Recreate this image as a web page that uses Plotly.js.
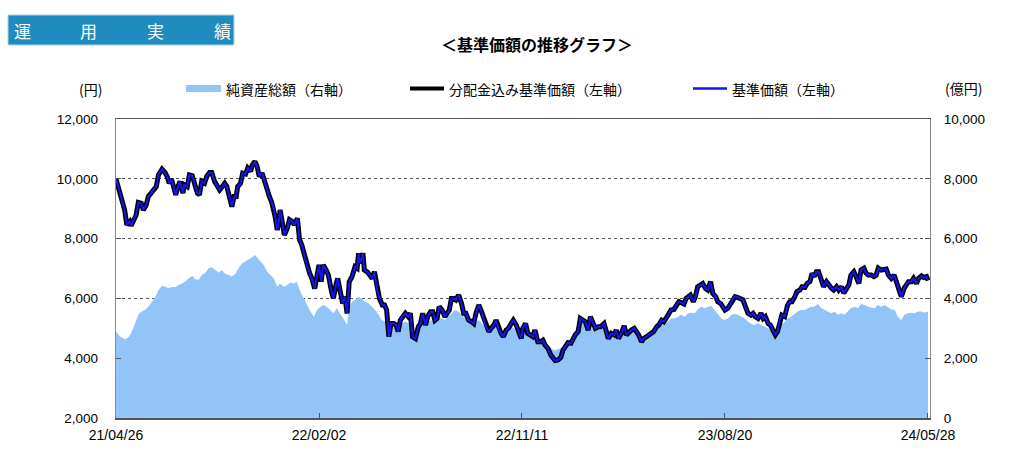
<!DOCTYPE html>
<html>
<head>
<meta charset="utf-8">
<script src="https://cdn.plot.ly/plotly-3.0.1.min.js"></script>
<style>
html,body{margin:0;padding:0;background:#fff;}
#chart{width:1024px;height:454px;}
</style>
</head>
<body>
<div id="chart"></div>
<script>
// ---- data ----
const startDate = '2021-04-26';
const tickDates = ['2021-04-26', '2022-02-02', '2022-11-11', '2023-08-20', '2024-05-28'];
const tickLabels = ['21/04/26', '22/02/02', '22/11/11', '23/08/20', '24/05/28'];
const seriesNames = ['純資産総額（右軸）', '分配金込み基準価額（左軸）', '基準価額（左軸）'];

// days elapsed since startDate
const navDays = [0,4,8,12,15,19,21,25,28,31,35,38,42,45,49,52,56,59,64,68,71,74,77,80,83,86,89,93,95,99,
102,106,109,113,116,119,123,126,130,133,137,140,144,147,151,154,157,161,164,167,169,173,176,180,183,187,189,193,196,199,
203,207,210,213,216,219,221,224,226,228,232,234,238,241,245,248,252,255,258,262,265,269,272,276,279,282,285,288,292,295,
299,302,306,308,312,315,318,321,324,328,332,335,337,339,343,345,349,352,356,359,363,366,370,373,376,379,382,386,389,392,
395,398,402,406,409,412,416,420,423,426,430,433,437,440,443,446,449,453,457,460,463,466,469,472,476,480,483,486,490,494,
497,500,504,507,511,514,518,521,525,528,532,535,538,542,545,549,552,556,559,563,
565,569,572,576,579,582,586,590,593,596,600,604,607,610,614,618,621,624,628,632,635,638,642,645,649,652,656,659,663,666,
670,673,678,681,684,688,692,695,698,702,706,709,712,716,720,723,726,730,733,737,740,744,747,751,754,758,761,764,768,771,
775,778,782,785,789,792,796,798,802,805,808,812,815,819,822,826,829,833,836,840,843,846,850,854,857,860,864,868,871,874,
878,882,885,888,892,896,899,902,906,909,913,916,919,922,925,929,933,936,939,943,946,950,953,957,960,964,967,970,973,976,
980,983,987,990,994,997,1001,1004,1008,1011,1014,1018,1021,1025,1028,1032,1035,1039,1042,1045,1049,1053,1056,1059,1063,1067,1070,1073,1077,1081,
1084,1087,1091,1095,1098,1101,1105,1108,1112,1115,1119,1122,1126,1128];

// 基準価額 (円)
const nav = [10000,9690,9300,8960,8460,8570,8430,8680,8790,9210,9180,8960,9130,9410,9520,9650,9740,10130,10320,10210,
10080,9850,9990,9740,9460,9740,9910,9520,9800,9740,10130,10100,9850,9520,9460,9910,9850,10080,10210,10210,
9910,9800,9630,9720,9850,9740,9410,9070,9410,9410,9740,9850,10190,10160,10360,10250,10440,10580,10410,10080,
10190,9850,9630,9410,9240,9020,8740,8290,8520,8960,8460,8120,8350,8630,8570,8460,8680,7960,7790,7400,
7120,6840,6670,6330,6730,7120,6560,7120,6950,6780,6280,6000,6500,6670,6170,5830,6060,5500,6560,6730,
7060,7010,7510,7170,7510,6950,6890,6780,6670,6890,6280,6000,5780,5780,5610,4720,5160,5160,5110,4890,
5270,5390,5500,5390,5500,4720,4660,5050,5160,5500,5110,5390,5550,5550,5270,5330,5720,5610,5390,5500,
5610,6000,6000,5950,6110,5830,5500,5500,5270,5220,5160,5500,5780,5610,5330,5050,4890,5000,5110,5270,
4940,4830,4720,4940,5000,5160,5270,5110,4940,4660,
5000,5160,4830,4780,4720,4940,4550,4550,4600,4440,4330,4110,4000,3920,3940,4030,4270,4390,4520,4500,
4660,4780,4890,5330,5270,5220,4940,5390,5160,5000,5050,5050,5160,4940,4660,4830,4780,4940,4660,4830,
5080,4780,4860,4940,5000,4890,4780,4550,4660,4720,4780,4860,4890,5050,5110,5270,5220,5330,5500,5610,
5630,5780,5890,5860,5810,6000,6060,6110,5890,6060,6390,6450,6500,6330,6280,6560,6170,6060,5890,5830,
5720,5610,5670,5830,6000,6060,6030,5970,5950,5750,5500,5440,5500,5390,5330,5500,5330,5390,5160,5110,
4940,4780,4890,5270,5440,5390,5780,5890,5890,6060,6230,6280,6390,6370,6500,6560,6840,6730,6890,6890,
6620,6390,6560,6450,6340,6280,6390,6280,6390,6170,6280,6450,6780,6890,6730,6500,6950,7010,6840,6780,
6780,6730,6780,7010,6950,6980,6980,6780,6670,6780,6560,6280,6060,6340,6500,6560,6560,6670,6500,6670,
6750,6700,6730,6600];

// 分配金込み基準価額 (円) — no distributions paid, same as 基準価額
const navWithDist = nav.slice();

const assetDays = [0,6,13,18,22,27,32,36,41,45,50,55,59,64,69,73,78,82,87,92,96,101,106,110,115,119,124,129,133,138,
143,147,152,157,161,166,170,175,180,184,189,193,196,200,205,210,214,219,224,228,233,238,242,247,251,256,261,265,270,275,
279,284,288,293,298,302,307,312,316,321,324,328,332,337,342,346,351,356,360,365,369,374,379,383,388,393,397,402,407,411,
416,420,425,430,434,439,444,448,453,457,462,467,471,476,481,485,490,494,499,504,508,513,518,522,527,532,536,541,545,550,
555,559,564,
568,572,577,582,586,591,595,600,605,609,614,619,623,628,632,637,642,646,651,656,660,665,670,674,679,683,688,693,697,702,
707,711,716,720,725,730,734,739,744,748,753,757,762,767,771,776,781,785,790,795,799,804,808,813,818,822,827,832,836,841,
845,850,855,859,864,869,873,878,883,887,892,896,901,906,910,915,920,924,929,933,938,943,947,952,957,961,966,970,975,980,
984,989,994,998,1003,1007,1012,1017,1021,1026,1031,1035,1040,1045,1049,1054,1058,1063,1068,1072,1077,1082,1086,1091,1095,1100,1105,1109,1114,1119,
1123,1128];

// 純資産総額 (億円)
const assets = [2890,2720,2630,2720,2890,3170,3500,3560,3630,3720,3890,4060,4280,4420,4390,4340,4390,4370,4450,4500,
4560,4670,4750,4640,4620,4780,4860,5010,5040,4950,4860,4950,4820,4780,4730,4820,5010,5170,5230,5310,
5370,5450,5370,5290,5120,4890,4780,4670,4390,4500,4390,4450,4530,4500,4560,4230,4000,3780,3560,3390,
3610,3720,3780,3720,3610,3500,3670,3450,3330,3110,3720,3890,3950,4060,3970,3890,3840,3720,3610,3450,
3280,3220,3170,3110,3140,3110,3170,3220,3170,2940,2890,3000,3110,3110,3220,3280,3220,3330,3330,3280,
3390,3500,3610,3560,3450,3330,3220,3110,3170,3280,3170,3000,2890,2940,3050,2890,2780,2830,2940,3050,
2940,2830,2660,
2940,2830,2720,2830,2610,2550,2500,2390,2330,2270,2300,2330,2440,2550,2550,2720,2890,3280,3220,3000,
3220,3110,3110,3170,3110,2780,2890,2830,2780,2940,2940,2890,2940,2940,2830,2610,2720,2780,2830,2940,
3000,3110,3170,3220,3330,3330,3390,3450,3390,3500,3520,3500,3630,3720,3670,3720,3750,3610,3500,3330,
3280,3330,3450,3480,3450,3390,3330,3220,3140,3110,3170,3110,3050,3000,2890,2780,2940,3110,3220,3330,
3390,3480,3560,3610,3610,3670,3720,3720,3810,3670,3610,3560,3500,3560,3450,3500,3450,3560,3670,3720,
3670,3810,3780,3720,3700,3670,3780,3720,3780,3720,3630,3610,3390,3280,3450,3500,3520,3500,3560,3560,
3520,3560];

// ---- helpers ----
const DAY = 86400000;
const t0 = Date.parse(startDate + 'T00:00:00Z');
function dayToDate(d) { return new Date(t0 + d * DAY).toISOString().slice(0, 19).replace('T', ' '); }

const FONT = '"Noto Sans CJK JP", "Noto Sans", sans-serif';
const NUMFONT = '"Liberation Sans", Arial, sans-serif';
const AREA = '#92C4F8';
const BLUE = '#1414F5';

// plot box in pixels
const PL = 116, PR = 930, PT = 119, PB = 418;
const xp = px => (px - PL) / (PR - PL);
const yp = py => (PB - py) / (PB - PT);

const traces = [
  {
    x: assetDays.map(dayToDate), y: assets, name: seriesNames[0],
    type: 'scatter', mode: 'lines', fill: 'tozeroy', fillcolor: AREA,
    line: {width: 0, color: AREA}, yaxis: 'y', hoverinfo: 'skip', showlegend: false
  },
  {
    x: navDays.map(dayToDate), y: navWithDist, name: seriesNames[1],
    type: 'scatter', mode: 'lines', line: {width: 5, color: '#000000'},
    yaxis: 'y2', showlegend: false
  },
  {
    x: navDays.map(dayToDate), y: nav, name: seriesNames[2],
    type: 'scatter', mode: 'lines', line: {width: 2, color: BLUE},
    yaxis: 'y2', showlegend: false
  }
];

const shapes = [
  // header box
  {type: 'rect', xref: 'paper', yref: 'paper', x0: xp(8), x1: xp(234), y0: yp(15), y1: yp(45),
   fillcolor: '#1F8BBE', line: {color: '#A9D7EC', width: 1}, layer: 'above'},
  // legend symbols
  {type: 'rect', xref: 'paper', yref: 'paper', x0: xp(186), x1: xp(221), y0: yp(92), y1: yp(85),
   fillcolor: AREA, line: {width: 0}},
  {type: 'line', xref: 'paper', yref: 'paper', x0: xp(410), x1: xp(444), y0: yp(88.5), y1: yp(88.5),
   line: {color: '#000', width: 4}},
  {type: 'line', xref: 'paper', yref: 'paper', x0: xp(693), x1: xp(727), y0: yp(88.5), y1: yp(88.5),
   line: {color: BLUE, width: 2.5}}
];

function ann(text, px, py, opts) {
  return Object.assign({text: text, xref: 'paper', yref: 'paper', x: xp(px), y: yp(py),
    xanchor: 'center', yanchor: 'middle', showarrow: false,
    font: {family: FONT, size: 14, color: '#000'}}, opts || {});
}

const headerChars = ['運', '用', '実', '績'];
const headerX = [22, 88, 155, 222];

const annotations = [
  ann('(円)', 90, 89),
  ann('(億円)', 963, 88),
  ann(seriesNames[0], 224, 89, {xanchor: 'left'}),
  ann(seriesNames[1], 447, 89, {xanchor: 'left'}),
  ann(seriesNames[2], 730, 89, {xanchor: 'left'})
].concat(headerChars.map((c, i) => ann(c, headerX[i], 30.5, {font: {family: FONT, size: 17, color: '#fff'}})));

const yTickFont = {family: NUMFONT, size: 13.5, color: '#000'};
const xTickFont = {family: NUMFONT, size: 14, color: '#000'};

const layout = {
  width: 1024, height: 454,
  margin: {l: PL, r: 1024 - PR, t: PT, b: 454 - PB, pad: 0},
  paper_bgcolor: '#fff', plot_bgcolor: '#fff',
  font: {family: FONT, size: 13, color: '#000'},
  showlegend: false,
  title: {text: '＜基準価額の推移グラフ＞', x: 537 / 1024, xanchor: 'center', y: 1 - 45.5 / 454, yanchor: 'middle',
          font: {family: FONT, size: 16, color: '#000', weight: 'bold'}},
  xaxis: {
    type: 'date', range: [dayToDate(0), dayToDate(1130.8)],
    tickvals: tickDates, ticktext: tickLabels,
    ticks: 'inside', ticklen: 5, tickcolor: '#555', tickwidth: 1,
    showgrid: false, zeroline: false,
    showline: true, linecolor: '#555', linewidth: 1.5, mirror: true,
    tickfont: xTickFont, ticklabelstandoff: 4
  },
  yaxis: {
    range: [0, 10000], dtick: 2000, tick0: 0, side: 'right',
    tickformat: ',d', ticks: 'inside', ticklen: 5, tickcolor: '#555',
    showgrid: true, gridcolor: '#555', griddash: 'dot', gridwidth: 1,
    zeroline: false, showline: true, linecolor: '#888', linewidth: 1, mirror: true,
    tickfont: yTickFont, ticklabelstandoff: 10
  },
  yaxis2: {
    range: [2000, 12000], dtick: 2000, tick0: 2000, side: 'left', overlaying: 'y',
    tickformat: ',d', ticks: 'inside', ticklen: 5, tickcolor: '#555',
    showgrid: false, zeroline: false, showline: false,
    tickfont: yTickFont, ticklabelstandoff: 17
  },
  shapes: shapes,
  annotations: annotations
};

Plotly.newPlot('chart', traces, layout, {displayModeBar: false, staticPlot: true});
</script>
</body>
</html>
